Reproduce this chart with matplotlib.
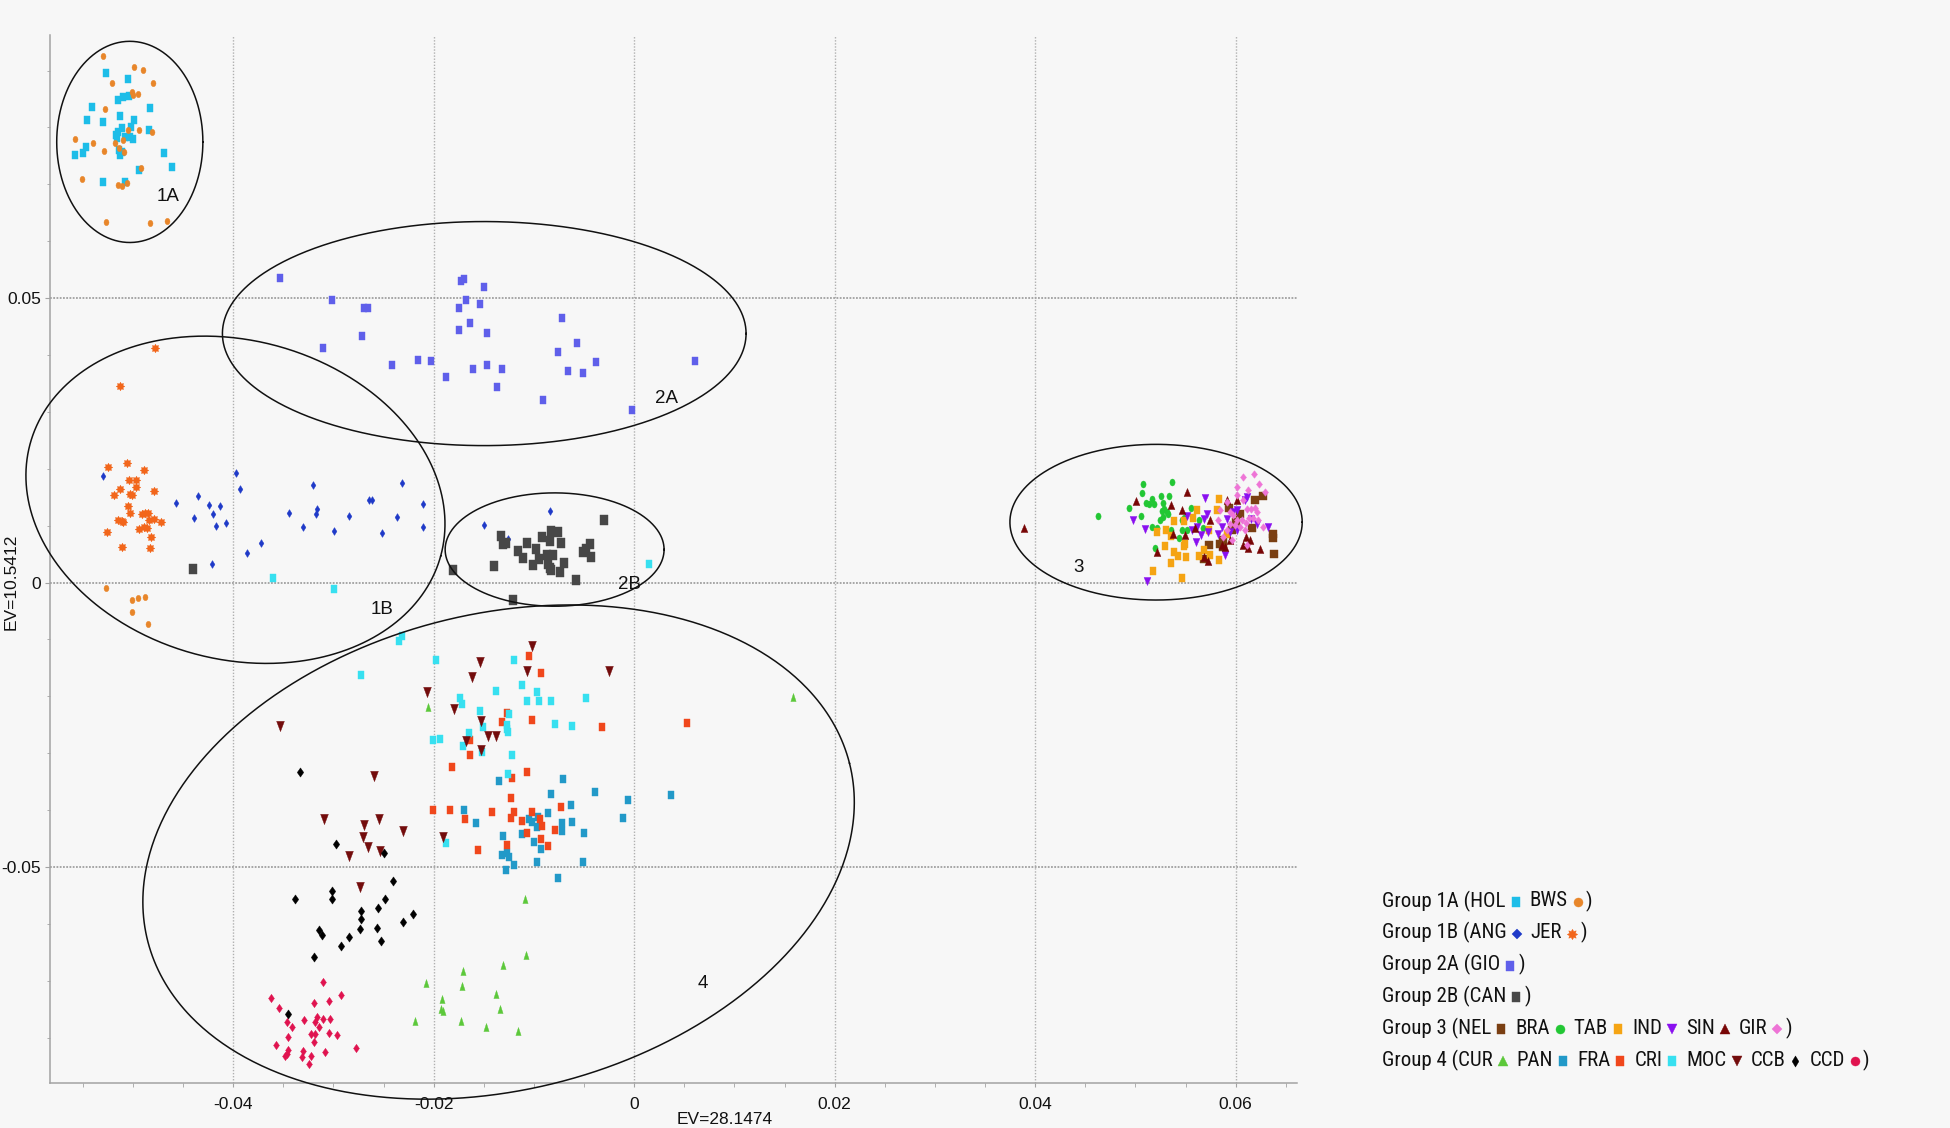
import numpy as np
import matplotlib
matplotlib.use("Agg")
import matplotlib.pyplot as plt
from matplotlib import font_manager
from matplotlib.path import Path
from matplotlib.ticker import FixedLocator, MultipleLocator

# ---------------- fonts ----------------
_avail = {f.name for f in font_manager.fontManager.ttflist}
MAIN_FONT = next((f for f in ["Liberation Sans", "Arial", "DejaVu Sans"] if f in _avail), "DejaVu Sans")
NARROW_FONT = next((f for f in ["Liberation Sans Narrow", "Arial Narrow", "Roboto Condensed"] if f in _avail), None)
plt.rcParams['font.family'] = [MAIN_FONT, 'DejaVu Sans']
plt.rcParams['axes.unicode_minus'] = False

UNIT = 1e-3  # all coordinates below are in thousandths

# ---------------- data ----------------
hol_x = [-52.74, -50.54, -50.98, -50.38, -51.51, -54.10, -48.32, -54.63, -53.04, -51.31, -49.91, -50.21, -51.14, -51.47, -51.71, -51.64, -50.81, -50.31, -49.98, -48.42, -54.73, -55.03, -55.80, -51.37, -51.31, -51.07, -46.92, -46.09, -49.45, -53.04, -50.81]
hol_y = [89.51, 88.45, 85.40, 85.58, 84.81, 83.64, 83.47, 81.24, 80.94, 82.00, 81.30, 80.01, 79.83, 79.24, 78.66, 78.07, 78.36, 78.36, 77.90, 79.54, 76.49, 75.43, 75.14, 76.02, 75.14, 75.73, 75.55, 73.09, 72.50, 70.45, 70.33]

bws_x = [-52.97, -49.88, -48.98, -52.14, -47.98, -50.08, -49.98, -49.51, -52.77, -50.48, -49.38, -48.15, -55.80, -54.03, -51.77, -50.98, -52.90, -51.41, -50.91, -49.21, -55.13, -51.47, -51.14, -50.64, -52.74, -48.32, -46.59, -52.71, -50.11, -49.52, -48.85, -50.11, -48.55]
bws_y = [92.61, 90.56, 90.09, 87.75, 87.86, 86.28, 85.69, 85.81, 83.23, 79.54, 79.54, 79.18, 77.90, 77.31, 77.31, 77.78, 75.84, 76.31, 75.61, 72.91, 70.86, 69.86, 69.69, 70.16, 63.30, 63.12, 63.59, -0.97, -3.03, -2.73, -2.56, -5.20, -7.25]

ang_x = [-52.97, -45.76, -43.53, -43.90, -42.43, -42.00, -41.37, -41.70, -40.74, -39.77, -39.34, -37.21, -38.58, -42.10, -34.39, -33.06, -32.03, -31.63, -31.76, -29.96, -28.50, -26.47, -26.14, -25.14, -23.65, -23.12, -21.05, -21.05, -14.96, -8.41, -12.56]
ang_y = [18.67, 14.04, 15.27, 11.34, 13.57, 12.10, 13.39, 9.99, 10.52, 19.20, 16.44, 7.00, 5.18, 3.31, 12.28, 9.76, 17.09, 12.92, 11.99, 9.05, 11.63, 14.57, 14.57, 8.76, 11.52, 17.56, 13.75, 9.76, 10.04, 12.56, 7.70]

jer_x = [-47.82, -51.28, -52.47, -50.58, -48.92, -50.38, -49.75, -49.68, -51.34, -51.88, -50.31, -50.05, -47.95, -50.48, -50.25, -49.12, -48.78, -48.55, -51.48, -51.14, -51.01, -48.38, -47.92, -47.22, -52.57, -49.38, -48.92, -48.62, -48.18, -51.08, -48.35]
jer_y = [41.25, 34.50, 20.26, 21.07, 19.79, 17.97, 17.97, 16.85, 16.38, 15.39, 15.50, 15.39, 16.09, 13.45, 12.22, 12.11, 12.22, 12.22, 10.99, 10.87, 10.58, 11.05, 11.23, 10.58, 8.82, 9.41, 9.76, 9.64, 8.06, 6.24, 6.12]

gio_x = [-35.31, -30.17, -27.00, -26.60, -27.20, -31.05, -24.20, -21.57, -20.24, -18.81, -17.31, -16.99, -14.97, -16.78, -17.48, -15.42, -16.40, -17.48, -14.72, -16.12, -14.72, -13.22, -13.71, -9.09, -7.20, -5.66, -7.59, -6.61, -5.10, -3.85, -0.24, 6.05]
gio_y = [53.46, 49.59, 48.18, 48.18, 43.31, 41.26, 38.21, 39.03, 38.86, 36.16, 52.93, 53.34, 51.99, 49.71, 48.30, 49.00, 45.66, 44.31, 43.84, 37.57, 38.21, 37.45, 34.40, 32.11, 46.54, 42.08, 40.44, 37.10, 36.80, 38.68, 30.35, 38.86]

can_x = [-44.06, -18.12, -13.99, -13.33, -13.06, -12.83, -11.63, -11.07, -10.67, -10.07, -9.84, -9.47, -9.24, -8.74, -8.31, -8.37, -8.07, -8.57, -8.41, -8.31, -7.58, -7.34, -7.41, -6.98, -5.81, -5.15, -4.85, -4.45, -4.32, -2.99, -12.07]
can_y = [2.43, 2.24, 2.83, 8.17, 6.82, 6.94, 5.53, 4.30, 6.94, 3.12, 5.94, 4.06, 8.00, 4.77, 8.99, 7.23, 4.77, 3.30, 2.54, 2.13, 8.87, 7.00, 1.83, 3.42, 0.37, 5.35, 5.94, 6.82, 4.47, 11.04, -3.15]

nel_x = [61.92, 62.75, 59.29, 59.76, 61.65, 63.75, 63.68, 63.81, 57.36, 56.83, 58.42, 58.69, 58.76, 60.42, 59.59, 60.02]
nel_y = [14.45, 15.15, 13.16, 9.75, 9.64, 8.58, 7.88, 5.06, 6.53, 4.13, 6.71, 6.24, 7.53, 12.10, 9.17, 10.63]

bra_x = [50.78, 53.64, 50.68, 49.38, 51.04, 51.38, 51.61, 51.84, 52.54, 53.37, 52.71, 52.61, 52.87, 53.11, 52.77, 52.44, 52.11, 53.27, 51.68, 50.51, 46.22, 54.60, 54.83, 55.50, 56.36, 54.60, 54.37, 55.10, 53.60, 51.97, 56.70]
bra_y = [17.26, 17.67, 15.74, 13.10, 13.98, 13.74, 14.74, 13.74, 15.15, 15.21, 13.98, 12.51, 12.98, 12.39, 11.51, 10.93, 9.64, 11.98, 9.75, 11.63, 11.63, 10.93, 11.40, 13.10, 10.93, 9.29, 7.88, 9.17, 9.17, 6.12, 9.64]

tab_x = [52.11, 53.01, 53.84, 54.87, 55.70, 56.16, 53.54, 54.93, 54.83, 52.91, 53.80, 54.27, 55.00, 53.54, 56.33, 56.83, 57.43, 58.36, 51.71, 54.60, 58.36, 58.09, 57.36, 59.09]
tab_y = [8.87, 9.17, 10.81, 10.81, 11.34, 12.69, 8.11, 6.71, 6.35, 6.47, 5.36, 4.59, 4.48, 3.48, 4.65, 5.77, 4.77, 3.89, 1.96, 0.84, 14.62, 12.69, 9.17, 8.58]

ind_x = [49.78, 50.94, 56.93, 57.16, 56.83, 56.10, 55.60, 56.03, 56.53, 57.26, 58.26, 58.59, 59.09, 59.76, 60.15, 61.09, 60.92, 61.58, 62.08, 63.25, 58.96, 51.11, 55.10, 60.09, 59.42]
ind_y = [10.93, 9.34, 14.91, 12.10, 11.22, 9.75, 9.17, 7.12, 8.29, 8.88, 8.58, 9.75, 11.22, 12.39, 12.69, 15.03, 14.45, 11.22, 10.34, 9.75, 4.89, 0.26, 11.63, 9.17, 8.88]

sin_x = [38.91, 50.05, 53.54, 55.10, 54.60, 52.11, 53.77, 54.93, 55.93, 57.43, 57.26, 56.83, 59.09, 60.09, 58.92, 60.69, 61.42, 61.25, 62.42, 61.02, 59.42, 58.59]
sin_y = [9.64, 14.27, 13.68, 15.85, 12.69, 5.36, 8.58, 8.29, 9.64, 10.93, 3.71, 4.48, 14.45, 14.45, 6.24, 6.53, 7.41, 6.12, 5.94, 8.00, 7.41, 6.53]

gir_x = [60.69, 61.82, 62.32, 60.09, 61.25, 62.91, 60.15, 60.69, 61.09, 61.58, 61.92, 62.08, 58.43, 59.09, 59.42, 59.76, 60.15, 60.59, 61.02, 61.35, 61.75, 62.25, 62.68, 58.26, 59.42, 59.92, 60.42, 60.92, 61.15, 59.09, 58.76, 59.59]
gir_y = [18.55, 19.02, 17.38, 16.79, 16.32, 15.91, 15.33, 14.45, 12.98, 12.98, 13.16, 12.39, 12.69, 14.15, 12.39, 11.81, 11.04, 10.93, 10.46, 11.40, 11.40, 10.93, 9.75, 10.93, 10.34, 10.05, 9.75, 9.17, 6.53, 9.17, 7.99, 7.41]

cur_x = [-10.93, -10.81, -13.10, -17.05, -20.77, -17.22, -13.79, -19.22, -19.28, -19.11, -13.39, -21.85, -17.28, -14.82, -11.56, -20.61, 15.88]
cur_y = [-55.57, -65.54, -67.18, -68.30, -70.41, -70.94, -72.29, -73.17, -74.93, -75.22, -75.04, -77.10, -77.10, -78.15, -78.86, -21.92, -20.13]

pan_x = [-7.08, -13.50, -8.31, -3.89, -0.59, 3.66, -1.09, -6.35, -8.57, -16.95, -15.82, -10.54, -10.24, -9.74, -9.57, -7.24, -7.21, -6.25, -13.10, -11.23, -9.97, -9.27, -5.02, -13.23, -12.66, -12.46, -11.96, -12.80, -9.74, -7.57, -5.08]
pan_y = [-34.52, -34.82, -37.16, -36.87, -38.16, -37.34, -41.38, -39.04, -40.50, -39.92, -42.32, -41.56, -42.15, -42.91, -41.27, -42.32, -43.61, -42.15, -44.49, -44.20, -45.66, -46.84, -44.08, -47.83, -47.60, -48.30, -49.59, -50.53, -49.06, -51.94, -49.06]

fra_x = [-10.47, -9.34, -12.73, -13.23, -10.17, -3.22, 5.26, -16.39, -16.39, -18.22, -10.74, -12.16, -12.33, -20.11, -18.35, -16.85, -14.16, -11.97, -12.30, -10.17, -11.17, -9.41, -9.24, -7.34, -7.88, -10.67, -9.31, -12.73, -8.57, -15.56]
fra_y = [-12.83, -15.88, -22.97, -24.55, -24.14, -25.32, -24.73, -27.66, -30.30, -32.47, -33.35, -34.35, -37.87, -39.92, -39.92, -41.56, -40.39, -40.27, -41.32, -40.27, -41.85, -41.56, -42.73, -39.51, -43.44, -44.08, -45.08, -46.07, -46.37, -47.01]

cri_x = [-36.02, -29.90, 1.47, -23.20, -23.47, -27.26, -19.75, -12.03, -11.17, -13.83, -9.74, -10.74, -9.50, -8.31, -4.82, -17.42, -17.22, -15.39, -12.50, -15.06, -12.73, -12.56, -12.66, -16.52, -20.05, -19.38, -17.12, -15.22, -12.23, -12.56, -7.94, -6.25, -18.82]
cri_y = [0.85, -1.09, 3.24, -9.31, -10.36, -16.17, -13.53, -13.59, -17.99, -19.10, -19.16, -20.86, -20.86, -20.74, -20.21, -20.33, -21.33, -22.62, -23.09, -25.32, -25.02, -26.31, -25.73, -26.49, -27.66, -27.54, -28.78, -29.83, -30.30, -33.70, -24.85, -25.20, -45.84]

moc_x = [-10.24, -15.39, -10.74, -16.22, -2.49, -20.71, -17.95, -15.32, -14.63, -13.79, -16.82, -15.29, -35.31, -26.00, -30.98, -26.93, -25.47, -27.03, -23.11, -26.56, -25.37, -28.42, -19.08, -27.36]
moc_y = [-11.07, -14.00, -15.46, -16.52, -15.46, -19.28, -22.21, -24.26, -26.90, -26.90, -27.78, -29.42, -25.14, -33.94, -41.56, -42.56, -41.56, -44.67, -43.61, -46.43, -47.13, -48.01, -44.67, -53.46]

ccb_x = [-33.35, -29.72, -24.93, -24.10, -33.87, -30.15, -30.15, -27.23, -27.23, -25.51, -24.89, -22.08, -23.11, -27.35, -25.69, -31.41, -31.12, -28.43, -29.23, -25.29, -31.98, -34.55]
ccb_y = [-33.35, -45.96, -47.60, -52.41, -55.69, -54.28, -55.57, -57.80, -59.09, -57.16, -55.57, -58.27, -59.68, -60.97, -60.67, -61.14, -62.02, -62.32, -63.90, -63.02, -65.84, -75.81]

ccd_x = [-31.01, -36.27, -29.23, -35.41, -31.98, -30.49, -32.95, -31.64, -31.01, -30.38, -34.61, -34.15, -31.86, -31.41, -34.55, -32.27, -31.86, -30.43, -29.69, -31.98, -35.70, -27.80, -34.55, -33.01, -34.67, -30.84, -33.12, -34.84, -32.27, -32.44]
ccd_y = [-70.23, -72.99, -72.46, -74.75, -73.93, -73.52, -76.80, -76.28, -76.69, -76.69, -77.27, -78.15, -77.27, -78.15, -79.91, -79.33, -79.33, -79.15, -79.50, -80.79, -81.20, -81.85, -82.14, -82.26, -82.84, -82.43, -83.43, -83.14, -83.14, -84.60]

# group ellipses: centre, semi-axis along x (x units), semi-axis along y (y units), screen tilt (deg)
ell_names = ["1A", "2A", "1B", "2B", "3", "4"]
ell_cx = [-50.32, -14.96, -39.78, -7.94, 52.06, -13.53]
ell_cy = [77.45, 43.76, 14.55, 5.80, 10.61, -47.37]
ell_a = [7.29, 26.12, 21.23, 10.92, 14.58, 36.11]
ell_b = [17.68, 19.69, 28.01, 9.96, 13.68, 41.81]
ell_tilt = [0.0, 0.0, -15.3, 0.0, 0.0, 14.2]
lab_x = [-46.5, 3.2, -25.2, -0.5, 44.3, 6.8]
lab_y = [67.8, 32.4, -4.8, -0.4, 2.6, -70.5]

xtick_vals = [-0.04, -0.02, 0.0, 0.02, 0.04, 0.06]
xtick_labels = ["-0.04", "-0.02", "0", "0.02", "0.04", "0.06"]
ytick_vals = [-0.05, 0.0, 0.05]
ytick_labels = ["-0.05", "0", "0.05"]
XLIM = (-0.05828, 0.06612)
YLIM = (-0.08796, 0.09624)
xlabel = "EV=28.1474"
ylabel = "EV=10.5412"

legend_heads = ["Group 1A (", "Group 1B (", "Group 2A (", "Group 2B (", "Group 3 (", "Group 4 ("]
legend_members = [["HOL", "BWS"], ["ANG", "JER"], ["GIO"], ["CAN"],
                  ["NEL", "BRA", "TAB", "IND", "SIN", "GIR"],
                  ["CUR", "PAN", "FRA", "CRI", "MOC", "CCB", "CCD"]]

# ---------------- marker shapes ----------------
def rect(a):
    return Path([(-a, -1), (a, -1), (a, 1), (-a, 1), (-a, -1)], closed=True)

def dia(a):
    return Path([(0, 1), (a, 0), (0, -1), (-a, 0), (0, 1)], closed=True)

def oval(a):
    c = Path.unit_circle()
    return Path(c.vertices * np.array([a, 1.0]), c.codes)

def tri(a, up=True):
    s = 1 if up else -1
    return Path([(0, s), (a, -s), (-a, -s), (0, s)], closed=True)

def burst(n=8, inner=0.62):
    ang = np.pi / 2 + np.arange(2 * n) * np.pi / n
    rad = np.where(np.arange(2 * n) % 2 == 0, 1.0, inner)
    pts = list(zip(rad * np.cos(ang), rad * np.sin(ang)))
    pts.append(pts[0])
    return Path(pts, closed=True)

series = {
    "HOL": (hol_x, hol_y, "#1DBDE8", rect(0.82), 5.6),
    "BWS": (bws_x, bws_y, "#E8862A", oval(0.78), 4.6),
    "ANG": (ang_x, ang_y, "#1F3AC8", dia(0.62), 5.6),
    "JER": (jer_x, jer_y, "#F2661B", burst(), 6.2),
    "GIO": (gio_x, gio_y, "#5F5FEA", rect(0.72), 5.4),
    "CAN": (can_x, can_y, "#474747", rect(0.70), 7.6),
    "NEL": (nel_x, nel_y, "#7A3F12", rect(0.85), 6.2),
    "BRA": (bra_x, bra_y, "#22C734", oval(0.75), 5.0),
    "TAB": (tab_x, tab_y, "#F5A413", rect(0.85), 5.8),
    "IND": (ind_x, ind_y, "#8A10F0", tri(0.85, False), 5.8),
    "SIN": (sin_x, sin_y, "#780606", tri(0.85, True), 5.8),
    "GIR": (gir_x, gir_y, "#EE74D6", dia(0.8), 5.4),
    "CUR": (cur_x, cur_y, "#5CC83A", tri(0.65, True), 5.8),
    "PAN": (pan_x, pan_y, "#2299C8", rect(0.78), 5.2),
    "FRA": (fra_x, fra_y, "#F0471C", rect(0.78), 5.4),
    "CRI": (cri_x, cri_y, "#37E0F0", rect(0.78), 5.4),
    "MOC": (moc_x, moc_y, "#730C0C", tri(0.75, False), 7.4),
    "CCB": (ccb_x, ccb_y, "#000000", dia(0.7), 6.6),
    "CCD": (ccd_x, ccd_y, "#E0134F", dia(0.7), 6.0),
}
legend_marker = {
    "HOL": rect(0.9), "BWS": "o", "ANG": "D", "JER": burst(), "GIO": rect(0.75),
    "CAN": rect(0.8), "NEL": rect(0.85), "BRA": "o", "TAB": rect(0.9), "IND": "v",
    "SIN": "^", "GIR": "D", "CUR": "^", "PAN": rect(0.9), "FRA": rect(0.9),
    "CRI": rect(0.9), "MOC": "v", "CCB": dia(0.6), "CCD": "o",
}
legend_ms = {"HOL": 6.5, "BWS": 6.5, "ANG": 5.2, "JER": 7.5, "GIO": 7.0, "CAN": 7.0,
             "NEL": 7.0, "BRA": 6.5, "TAB": 7.0, "IND": 7.0, "SIN": 7.0, "GIR": 5.2,
             "CUR": 7.0, "PAN": 7.0, "FRA": 7.0, "CRI": 6.5, "MOC": 7.0, "CCB": 8.0, "CCD": 6.5}

# ---------------- figure ----------------
BG = "#F7F7F7"
W, H = 1950, 1128
fig = plt.figure(figsize=(W / 100, H / 100), dpi=100, facecolor=BG)
ax = fig.add_axes([50 / W, 1 - 1083 / H, (1297 - 50) / W, (1083 - 35) / H])
ax.set_facecolor(BG)
ax.set_xlim(*XLIM)
ax.set_ylim(*YLIM)

for sp in ["top", "right"]:
    ax.spines[sp].set_visible(False)
for sp in ["left", "bottom"]:
    ax.spines[sp].set_color("#A3A3A3")
    ax.spines[sp].set_linewidth(1.1)

ax.xaxis.set_major_locator(FixedLocator(xtick_vals))
ax.set_xticklabels(xtick_labels)
ax.yaxis.set_major_locator(FixedLocator(ytick_vals))
ax.set_yticklabels(ytick_labels)
ax.xaxis.set_minor_locator(MultipleLocator(0.005))
ax.yaxis.set_minor_locator(MultipleLocator(0.01))
ax.tick_params(axis="x", which="major", length=3, color="#A3A3A3", labelsize=12.5, pad=7, labelcolor="#111111")
ax.tick_params(axis="x", which="minor", length=3, color="#A3A3A3")
ax.tick_params(axis="y", which="major", length=3.5, color="#A3A3A3", labelsize=12.5, pad=3, labelcolor="#111111")
ax.tick_params(axis="y", which="minor", length=2, color="#A3A3A3")
ax.grid(True, which="major", axis="x", color="#B0B0B0", linestyle=(0, (1, 1.2)), linewidth=1.0)
ax.grid(True, which="major", axis="y", color="#A0A0A0", linestyle=(0, (1, 0.8)), linewidth=1.3)
ax.set_axisbelow(True)

for name, (xs, ys, col, mk, ms) in series.items():
    ax.plot(np.array(xs) * UNIT, np.array(ys) * UNIT, linestyle="none", marker=mk,
            ms=ms, color=col, mec=col, mew=0.3, zorder=3)

# ellipses (tilt applied in screen space)
bb = ax.get_window_extent()
sx = (XLIM[1] - XLIM[0]) / bb.width
sy = (YLIM[1] - YLIM[0]) / bb.height
t = np.linspace(0, 2 * np.pi, 600)
for cx, cy, a, b, tilt in zip(ell_cx, ell_cy, ell_a, ell_b, ell_tilt):
    u = (a * UNIT / sx) * np.cos(t)
    v = (b * UNIT / sy) * np.sin(t)
    th = np.deg2rad(tilt)
    up = u * np.cos(th) - v * np.sin(th)
    vp = u * np.sin(th) + v * np.cos(th)
    ax.plot(cx * UNIT + up * sx, cy * UNIT + vp * sy, color="#111111", lw=1.1,
            clip_on=False, zorder=4)

for name, lx, ly in zip(ell_names, lab_x, lab_y):
    ax.text(lx * UNIT, ly * UNIT, name, fontsize=13.5, ha="center", va="center",
            color="#111111", zorder=5)

fig.text(725 / W, 1 - 1119 / H, xlabel, fontsize=12.5, ha="center", va="center", color="#111111")
fig.text(11 / W, 1 - 582 / H, ylabel, fontsize=12.5, ha="center", va="center",
         rotation=90, color="#111111")

# ---------------- legend (inline text + markers) ----------------
lax = fig.add_axes([0, 0, 1, 1])
lax.set_xlim(0, W)
lax.set_ylim(H, 0)
lax.axis("off")
fig.canvas.draw()
renderer = fig.canvas.get_renderer()

if NARROW_FONT:
    LEG_FONT, LEG_FS = [NARROW_FONT, "DejaVu Sans"], 15
else:
    LEG_FONT, LEG_FS = [MAIN_FONT, "DejaVu Sans"], 12.8
LEG_X0, LEG_Y0, LEG_DY = 1382, 901, 31.8
GAP_TXT_MK, GAP_MK_TXT, GAP_MK_PAR = 10, 14, 8

for i, (head, members) in enumerate(zip(legend_heads, legend_members)):
    y = LEG_Y0 + i * LEG_DY
    x = LEG_X0
    mx = x
    for j, m in enumerate(members):
        txt = head + m if j == 0 else m
        tt = lax.text(x, y, txt, ha="left", va="center", fontsize=LEG_FS,
                      family=LEG_FONT, color="#111111")
        x1 = tt.get_window_extent(renderer).x1
        mx = x1 + GAP_TXT_MK
        col = series[m][2]
        lax.plot([mx], [y + 1], linestyle="none", marker=legend_marker[m], ms=legend_ms[m],
                 color=col, mec=col, mew=0.3)
        x = mx + GAP_MK_TXT
    lax.text(mx + GAP_MK_PAR, y, ")", ha="left", va="center", fontsize=LEG_FS,
             family=LEG_FONT, color="#111111")

fig.savefig("out.png", dpi=100, facecolor=BG)
